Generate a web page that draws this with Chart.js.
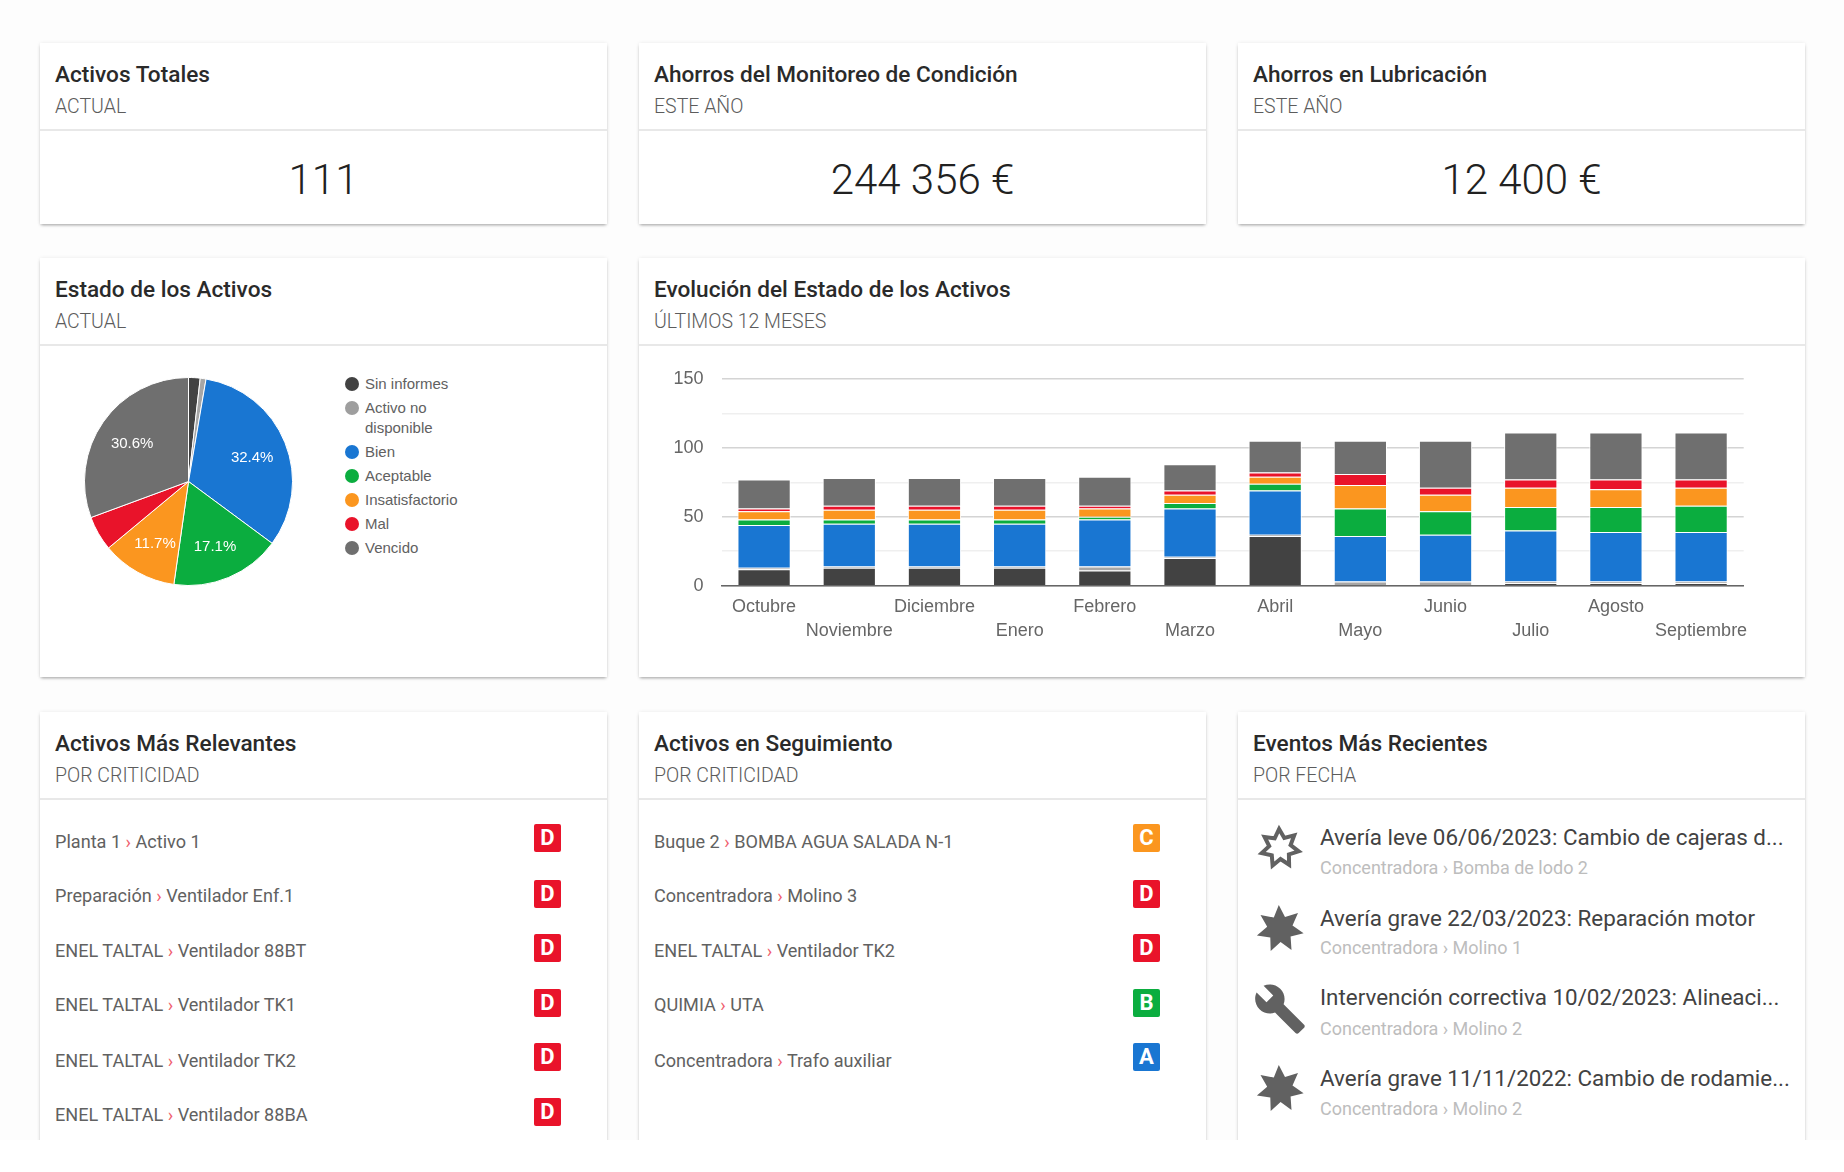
<!DOCTYPE html>
<html lang="es">
<head>
<meta charset="utf-8">
<title>Panel de activos</title>
<script src="https://cdn.jsdelivr.net/npm/chart.js@4/dist/chart.umd.min.js"></script>
<style>
    html, body { margin: 0; padding: 0; background: #fff; }
    body { width: 1844px; height: 1172px; overflow: hidden; font-family: Roboto, sans-serif; }
    #clip { position: absolute; left: 0; top: 0; width: 1844px; height: 1140px; overflow: hidden; background: #fdfdfd; }
    .card { position: absolute; background: #fff; box-shadow: 0 2px 3px -1px rgba(0,0,0,.35), 0 0 4px rgba(0,0,0,.07); }
    .head { height: 88px; border-bottom: 2px solid #e8e8e8; box-sizing: border-box; padding-left: 15px; position: relative; }
    .head h2 { margin: 0; position: absolute; top: 17.5px; font-size: 22.6px; line-height: 28px; font-weight: 500; color: #2a2a2a; white-space: nowrap; }
    .head p { margin: 0; position: absolute; top: 52px; font-size: 19.5px; line-height: 24px; font-weight: 300; color: #5c5c5c; white-space: nowrap; }
    .value { position: absolute; left: 0; right: 0; top: 90px; height: 93px; line-height: 93px; text-align: center; font-size: 42px; font-weight: 300; color: #212121; }
    .row { position: absolute; font-size: 18.1px; color: #616161; white-space: nowrap; line-height: 24px; }
    .row i { font-style: normal; color: #f0606e; }
    .badge { position: absolute; width: 27px; height: 28px; line-height: 28px; border-radius: 2px; text-align: center; color: #fff; font-weight: 700; font-size: 22px; }
    .ev-title { position: absolute; left: 82px; font-size: 22.4px; line-height: 28px; color: #424242; white-space: nowrap; }
    .ev-sub { position: absolute; left: 82px; font-size: 18px; line-height: 24px; color: #bdbdbd; white-space: nowrap; }
    .ev-icon { position: absolute; left: 17px; width: 50px; height: 50px; }
    #legend { position: absolute; left: 311px; top: 116px; font: 15px "Liberation Sans", Arial, sans-serif; color: #616161; }
    #legend div { position: relative; padding-left: 14px; line-height: 20px; margin-bottom: 4px; width: 100px; }
    #legend span { position: absolute; left: -6px; top: 3px; width: 14px; height: 14px; border-radius: 50%; }
    canvas { position: absolute; }
</style>
</head>
<body>
<div id="clip"></div>
<script>
    const months = ['Octubre', 'Noviembre', 'Diciembre', 'Enero', 'Febrero', 'Marzo', 'Abril', 'Mayo', 'Junio', 'Julio', 'Agosto', 'Septiembre'];
    const states = ['Sin informes', 'Activo no disponible', 'Bien', 'Aceptable', 'Insatisfactorio', 'Mal', 'Vencido'];
    const stateColors = ['#424242', '#a6a6a6', '#1976d2', '#0bad3f', '#fb961f', '#e9132a', '#6f6f6f'];

    // evolucion, de abajo a arriba
    const sinInformes =     [12, 13, 13, 13, 11, 20, 36, 0, 0, 2, 2, 2];
    const noDisponible =    [1, 1, 1, 1, 3, 1, 1, 3, 3, 1, 1, 1];
    const bien =            [31, 31, 31, 31, 34, 35, 32, 33, 34, 37, 36, 36];
    const aceptable =       [4, 3, 3, 3, 2, 4, 5, 20, 17, 17, 18, 19];
    const insatisfactorio = [6, 7, 7, 7, 6, 6, 5, 17, 12, 14, 13, 13];
    const mal =             [2, 3, 3, 3, 2, 3, 3, 8, 5, 6, 7, 6];
    const vencido =         [21, 20, 20, 20, 21, 19, 23, 24, 34, 34, 34, 34];
    const evolution = [sinInformes, noDisponible, bien, aceptable, insatisfactorio, mal, vencido];

    const currentState = [2, 1, 36, 19, 13, 6, 34];
    const yTicks = [0, 50, 100, 150];

    const summaryCards = [
        ['Activos Totales', 'ACTUAL', '111'],
        ['Ahorros del Monitoreo de Condición', 'ESTE AÑO', '244 356 €'],
        ['Ahorros en Lubricación', 'ESTE AÑO', '12 400 €']
    ];
    const relevantAssets = [
        ['Planta 1', 'Activo 1', 'D'], ['Preparación', 'Ventilador Enf.1', 'D'], ['ENEL TALTAL', 'Ventilador 88BT', 'D'],
        ['ENEL TALTAL', 'Ventilador TK1', 'D'], ['ENEL TALTAL', 'Ventilador TK2', 'D'], ['ENEL TALTAL', 'Ventilador 88BA', 'D']
    ];
    const followedAssets = [
        ['Buque 2', 'BOMBA AGUA SALADA N-1', 'C'], ['Concentradora', 'Molino 3', 'D'], ['ENEL TALTAL', 'Ventilador TK2', 'D'],
        ['QUIMIA', 'UTA', 'B'], ['Concentradora', 'Trafo auxiliar', 'A']
    ];
    const recentEvents = [
        ['leve', 'Avería leve 06/06/2023: Cambio de cajeras d...', 'Concentradora › Bomba de lodo 2'],
        ['grave', 'Avería grave 22/03/2023: Reparación motor', 'Concentradora › Molino 1'],
        ['tool', 'Intervención correctiva 10/02/2023: Alineaci...', 'Concentradora › Molino 2'],
        ['grave', 'Avería grave 11/11/2022: Cambio de rodamie...', 'Concentradora › Molino 2']
    ];
    const badgeColors = {A: '#1976d2', B: '#0bad3f', C: '#fb961f', D: '#e9132a'};

    const clip = document.getElementById('clip');

    function addCard(x, y, w, h, title, sub) {
        const card = document.createElement('div');
        card.className = 'card';
        card.style.cssText = `left:${x}px;top:${y}px;width:${w}px;height:${h}px`;
        card.innerHTML = `<div class="head"><h2>${title}</h2><p>${sub}</p></div>`;
        clip.appendChild(card);
        return card;
    }

    const colX = [40, 639, 1238];
    const colW = 567;

    summaryCards.forEach((c, i) => {
        const card = addCard(colX[i], 43, colW, 181, c[0], c[1]);
        card.insertAdjacentHTML('beforeend', `<div class="value">${c[2]}</div>`);
    });

    // tarjetas con grafico
    const pieCard = addCard(colX[0], 258, colW, 419, 'Estado de los Activos', 'ACTUAL');
    const barCard = addCard(colX[1], 258, 1166, 419, 'Evolución del Estado de los Activos', 'ÚLTIMOS 12 MESES');

    function addAssetList(x, assets) {
        const card = addCard(x, 712, colW, 460, x === colX[0] ? 'Activos Más Relevantes' : 'Activos en Seguimiento', 'POR CRITICIDAD');
        const textY = [118, 172, 227, 281, 337, 391];
        const badgeY = [112, 168, 222, 277, 331, 386];
        assets.forEach((a, i) => {
            card.insertAdjacentHTML('beforeend',
                `<div class="row" style="left:15px;top:${textY[i]}px">${a[0]} <i>›</i> ${a[1]}</div>` +
                `<div class="badge" style="left:494px;top:${badgeY[i]}px;background:${badgeColors[a[2]]}">${a[2]}</div>`);
        });
    }
    addAssetList(colX[0], relevantAssets);
    addAssetList(colX[1], followedAssets);

    const starPoints = (r1, r2) => {
        let pts = [];
        for (let i = 0; i < 14; i++) {
            const a = (i * Math.PI / 7) - Math.PI / 2 - 0.05;
            const r = i % 2 ? r2 : r1;
            pts.push((25 + r * Math.cos(a)).toFixed(1) + ',' + (25 + r * Math.sin(a)).toFixed(1));
        }
        return pts.join(' ');
    };
    const eventIcons = {
        leve: `<polygon points="${starPoints(19, 11)}" fill="#fff" stroke="#616161" stroke-width="4"/>`,
        grave: `<polygon points="${starPoints(24, 13)}" fill="#616161"/>`,
        tool: `<path transform="translate(-2,-2) scale(2.25)" fill="#616161" d="M22.7 19l-9.1-9.1c.9-2.3.4-5-1.5-6.9-2-2-5-2.4-7.4-1.3L9 6 6 9 1.6 4.7C.4 7.1.9 10.1 2.9 12.1c1.9 1.9 4.6 2.4 6.9 1.5l9.1 9.1c.4.4 1 .4 1.4 0l2.3-2.3c.5-.4.5-1.1.1-1.4z"/>`
    };

    const eventsCard = addCard(colX[2], 712, colW, 460, 'Eventos Más Recientes', 'POR FECHA');
    const evTitleY = [111, 192, 271, 352];
    const evSubY = [144, 224, 305, 385];
    const evIconY = [111, 192, 272, 352];
    recentEvents.forEach((e, i) => {
        eventsCard.insertAdjacentHTML('beforeend',
            `<svg class="ev-icon" viewBox="0 0 50 50" style="top:${evIconY[i]}px">${eventIcons[e[0]]}</svg>` +
            `<div class="ev-title" style="top:${evTitleY[i]}px">${e[1]}</div>` +
            `<div class="ev-sub" style="top:${evSubY[i]}px">${e[2]}</div>`);
    });

    // leyenda del pie
    const legendHtml = states.map((s, i) => `<div><span style="background:${i === 1 ? '#9e9e9e' : stateColors[i]}"></span>${s}</div>`).join('');
    pieCard.insertAdjacentHTML('beforeend', `<div id="legend">${legendHtml}</div>`);

    function addCanvas(parent, x, y, w, h) {
        const canvas = document.createElement('canvas');
        canvas.style.cssText = `left:${x}px;top:${y}px;width:${w}px;height:${h}px`;
        canvas.width = w;
        canvas.height = h;
        parent.appendChild(canvas);
        return canvas;
    }

    const percentLabels = {
        id: 'percentLabels',
        afterDatasetsDraw(chart) {
            const {ctx} = chart;
            const total = currentState.reduce((a, b) => a + b, 0);
            ctx.save();
            ctx.font = '15px "Liberation Sans", Arial, sans-serif';
            ctx.fillStyle = '#fff';
            ctx.textAlign = 'center';
            ctx.textBaseline = 'middle';
            chart.getDatasetMeta(0).data.forEach((arc, i) => {
                const share = currentState[i] / total;
                if (share < 0.1) return;
                const mid = (arc.startAngle + arc.endAngle) / 2;
                ctx.fillText((share * 100).toFixed(1) + '%', arc.x + Math.cos(mid) * arc.outerRadius * 0.66, arc.y + 2 + Math.sin(mid) * arc.outerRadius * 0.66);
            });
            ctx.restore();
        }
    };

    new Chart(addCanvas(pieCard, 43.5, 119, 209, 209), {
        type: 'pie',
        data: {
            labels: states,
            datasets: [{data: currentState, backgroundColor: stateColors, borderColor: '#fff', borderWidth: 1}]
        },
        options: {
            responsive: false,
            animation: false,
            plugins: {legend: {display: false}, tooltip: {enabled: false}}
        },
        plugins: [percentLabels]
    });

    new Chart(addCanvas(barCard, 21, 92, 1130, 320), {
        type: 'bar',
        data: {
            labels: months,
            datasets: states.map((s, i) => ({
                label: s,
                data: evolution[i],
                backgroundColor: stateColors[i],
                borderColor: '#fff',
                borderWidth: 1,
                barPercentage: 0.625,
                categoryPercentage: 1
            }))
        },
        options: {
            responsive: false,
            animation: false,
            layout: {padding: {top: 27.3, right: 46.3, left: 0, bottom: 0}},
            plugins: {legend: {display: false}, tooltip: {enabled: false}},
            scales: {
                x: {
                    stacked: true,
                    afterFit(scale) { scale.height = 84.3; scale.paddingLeft = 0; scale.paddingRight = 0; },
                    grid: {display: false},
                    border: {display: true, color: '#666', width: 1.5, z: 1},
                    ticks: {
                        autoSkip: false,
                        maxRotation: 0,
                        minRotation: 0,
                        padding: 2,
                        color: '#666',
                        font: {family: '"Liberation Sans", Arial, sans-serif', size: 18, lineHeight: 1.3},
                        callback(value, index) {
                            return index % 2 ? ['', months[index]] : [months[index], ''];
                        }
                    }
                },
                y: {
                    stacked: true,
                    min: 0,
                    max: 150,
                    afterFit(scale) { scale.width = 61.5; },
                    border: {display: false},
                    grid: {
                        drawTicks: false,
                        lineWidth: 1.5,
                        color: (c) => yTicks.includes(c.tick.value) ? '#d4d4d4' : '#efefef'
                    },
                    ticks: {
                        stepSize: 25,
                        padding: 18,
                        color: '#666',
                        font: {family: '"Liberation Sans", Arial, sans-serif', size: 18},
                        callback: (value) => yTicks.includes(value) ? value : ''
                    }
                }
            }
        }
    });
</script>
</body>
</html>
